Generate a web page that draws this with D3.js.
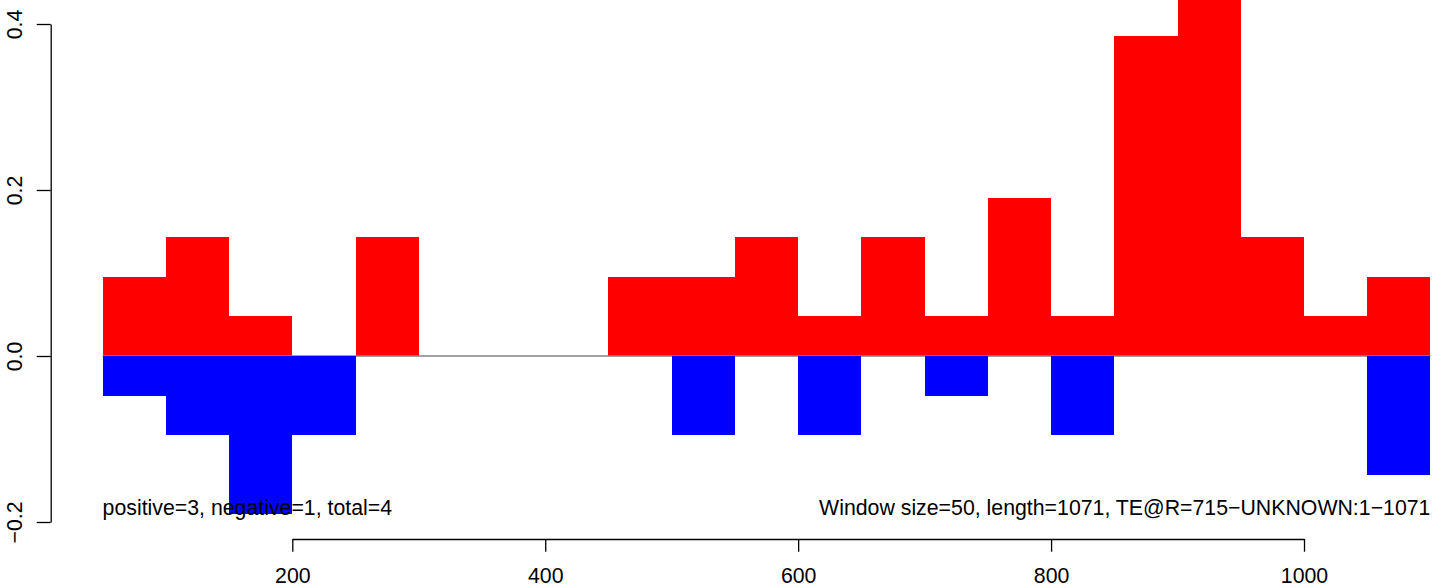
<!DOCTYPE html>
<html>
<head>
<meta charset="utf-8">
<script src="https://cdn.jsdelivr.net/npm/d3@7"></script>
<style>
  html, body { margin: 0; padding: 0; background: #fff; }
  svg { display: block; }
  text { font-family: "Liberation Sans", Arial, Helvetica, sans-serif; }
</style>
</head>
<body>
<svg id="chart" width="1444" height="587"></svg>
<script>
// ---- data ----
const windowStarts = [50,100,150,200,250,300,350,400,450,500,550,600,650,700,750,800,850,900,950,1000,1050];
const windowSize = 50;
const positiveValues = [0.095,0.143,0.048,0,0.143,0,0,0,0.095,0.095,0.143,0.048,0.143,0.048,0.19,0.048,0.385,0.48,0.143,0.048,0.095];
const negativeValues = [-0.048,-0.095,-0.19,-0.095,0,0,0,0,0,-0.095,0,-0.095,0,-0.048,0,-0.095,0,0,0,0,-0.143];
const xTicks = [200,400,600,800,1000];
const yTicks = [-0.2,0.0,0.2,0.4];
const leftNote = "positive=3, negative=1, total=4";
const rightNote = "Window size=50, length=1071, TE@R=715\u2212UNKNOWN:1\u22121071";

// ---- layout ----
const svg = d3.select("#chart");
const x = d3.scaleLinear().domain([200,1000]).range([292.3,1304]);
const y = d3.scaleLinear().domain([-0.2,0.4]).range([522,24]);
const xAxisY = 539;
const yAxisX = 50.7;
const fontSize = 21.3;

const bars = windowStarts.map((s,i) => ({start:s, end:s+windowSize, pos:positiveValues[i], neg:negativeValues[i]}));

// red (positive)
svg.append("g").selectAll("rect").data(bars.filter(d => d.pos > 0)).join("rect")
  .attr("x", d => x(d.start)).attr("width", d => x(d.end) - x(d.start))
  .attr("y", d => y(d.pos)).attr("height", d => y(0) - y(d.pos))
  .attr("fill", "#ff0000").attr("shape-rendering","crispEdges");

// zero line
svg.append("line")
  .attr("x1", x(windowStarts[0])).attr("x2", x(windowStarts[windowStarts.length-1] + windowSize))
  .attr("y1", y(0)).attr("y2", y(0))
  .attr("stroke", "#808080").attr("stroke-width", 1.4);

// blue (negative)
svg.append("g").selectAll("rect").data(bars.filter(d => d.neg < 0)).join("rect")
  .attr("x", d => x(d.start)).attr("width", d => x(d.end) - x(d.start))
  .attr("y", y(0)).attr("height", d => y(d.neg) - y(0))
  .attr("fill", "#0000ff").attr("shape-rendering","crispEdges");

// x axis
const gx = svg.append("g").attr("transform", `translate(0,${xAxisY})`)
  .call(d3.axisBottom(x).tickValues(xTicks).tickSize(12.7).tickSizeOuter(0).tickFormat(d3.format("d")));
gx.select(".domain").attr("stroke","#000").attr("stroke-width",1.3);
gx.selectAll(".tick line").attr("stroke","#000").attr("stroke-width",1.3);
gx.selectAll(".tick text").attr("y", 582.5 - xAxisY).attr("dy", 0)
  .attr("font-size", fontSize).attr("fill","#000").style("font-family","'Liberation Sans', Arial, sans-serif");

// y axis
const gy = svg.append("g").attr("transform", `translate(${yAxisX},0)`)
  .call(d3.axisLeft(y).tickValues(yTicks).tickSize(14).tickSizeOuter(0)
    .tickFormat(d => d.toFixed(1).replace("-", "\u2212")));
gy.select(".domain").attr("stroke","#000").attr("stroke-width",1.3);
gy.selectAll(".tick line").attr("stroke","#000").attr("stroke-width",1.3);
gy.selectAll(".tick text")
  .attr("x", 0).attr("dy", 0).attr("y", 0)
  .attr("transform", `translate(${22 - yAxisX},0) rotate(-90)`)
  .attr("text-anchor","middle")
  .attr("font-size", fontSize).attr("fill","#000").style("font-family","'Liberation Sans', Arial, sans-serif");

// notes
svg.append("text").attr("x", x(windowStarts[0])).attr("y", 515)
  .attr("font-size", fontSize).attr("text-anchor","start").attr("fill","#000").text(leftNote);
svg.append("text").attr("x", x(windowStarts[windowStarts.length-1] + windowSize)).attr("y", 515)
  .attr("font-size", fontSize).attr("text-anchor","end").attr("fill","#000").text(rightNote);
</script>
</body>
</html>
